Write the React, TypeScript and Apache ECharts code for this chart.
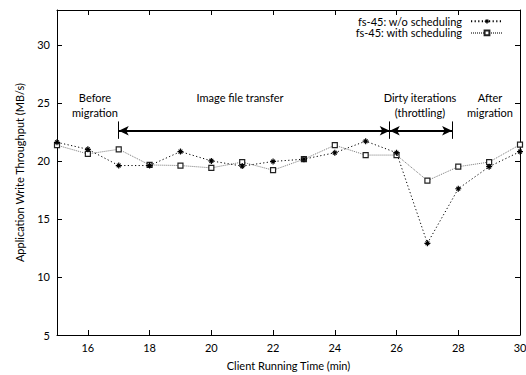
import React, { useEffect, useRef } from "react";
import * as echarts from "echarts";

const times = [15, 16, 17, 18, 19, 20, 21, 22, 23, 24, 25, 26, 27, 28, 29, 30];
const withoutScheduling = [21.6, 21.0, 19.6, 19.6, 20.8, 20.0, 19.55, 19.95, 20.15, 20.7, 21.7, 20.7, 12.9, 17.6, 19.5, 20.8];
const withScheduling = [21.35, 20.6, 21.0, 19.65, 19.6, 19.4, 19.9, 19.2, 20.15, 21.35, 20.5, 20.5, 18.3, 19.5, 19.9, 21.4];
const xTicks = [16, 18, 20, 22, 24, 26, 28, 30];
const yTicks = [5, 10, 15, 20, 25, 30];
const seriesNames = ["fs-45: w/o scheduling", "fs-45: with scheduling"];
const phaseBounds = [17, 25.78, 27.8];
const arrowLevel = 22.6;
const barRange = [21.9, 23.4];

const FONT = "Lato";
const STAR =
  "path://M4,0 L6,0 L6,10 L4,10 Z M0,4 L10,4 L10,6 L0,6 Z M2.42,1.22 L8.78,7.58 L7.58,8.78 L1.22,2.42 Z M7.58,1.22 L8.78,2.42 L2.42,8.78 L1.22,7.58 Z";

export default function App() {
  const ref = useRef<HTMLDivElement>(null);
  useEffect(() => {
    document.body.style.margin = "0";
    const chart = echarts.init(ref.current!, undefined, { renderer: "svg" });
    const d1 = times.map((t, i) => [t, withoutScheduling[i]]);
    const d2 = times.map((t, i) => [t, withScheduling[i]]);
    const arrowLines: any[] = [
      [
        { coord: [phaseBounds[0], arrowLevel], symbol: "arrow" },
        { coord: [phaseBounds[1], arrowLevel], symbol: "arrow" },
      ],
      [
        { coord: [phaseBounds[1], arrowLevel], symbol: "arrow" },
        { coord: [phaseBounds[2], arrowLevel], symbol: "arrow" },
      ],
    ];
    const barLines: any[] = phaseBounds.map((b) => [
      { coord: [b, barRange[0]], symbol: "none", lineStyle: { width: 1 } },
      { coord: [b, barRange[1]], symbol: "none" },
    ]);
    const textStyle = { fontFamily: FONT, fontSize: 11, color: "#000" };
    const mkText = (text: string, x: number, y: number) => ({
      type: "text",
      x,
      y,
      silent: true,
      style: {
        text,
        textAlign: "center",
        textVerticalAlign: "middle",
        font: `11px ${FONT}`,
        lineHeight: 15,
        fill: "#000",
      },
    });
    chart.setOption({
      animation: false,
      textStyle,
      grid: { left: 57, right: 6, top: 10, bottom: 40, show: false, outerBoundsMode: "none" },
      legend: {
        show: true,
        orient: "vertical",
        right: 22,
        top: 15.5,
        padding: 0,
        align: "right",
        itemWidth: 32,
        itemHeight: 6,
        itemGap: 0,
        textStyle: { ...textStyle, fontSize: 11, lineHeight: 11.6, padding: [0, 4, 0, 0] },
        data: seriesNames,
      },
      xAxis: [
        {
          type: "value",
          min: 15,
          max: 30,
          position: "bottom",
          name: "Client Running Time (min)",
          nameLocation: "middle",
          nameGap: 25,
          nameTextStyle: textStyle,
          splitLine: { show: false },
          axisLine: { show: true, lineStyle: { color: "#000", width: 1 } },
          axisTick: { show: true, inside: true, length: 5, customValues: xTicks, lineStyle: { color: "#000" } },
          axisLabel: { show: true, customValues: xTicks, margin: 7, ...textStyle },
        },
        {
          type: "value",
          min: 15,
          max: 30,
          position: "top",
          splitLine: { show: false },
          axisLine: { show: true, onZero: false, lineStyle: { color: "#000", width: 1 } },
          axisTick: { show: true, inside: true, length: 5, customValues: xTicks, lineStyle: { color: "#000" } },
          axisLabel: { show: false },
        },
      ],
      yAxis: [
        {
          type: "value",
          min: 5,
          max: 33,
          position: "left",
          name: "Application Write Throughput (MB/s)",
          nameLocation: "middle",
          nameGap: 32,
          nameTextStyle: textStyle,
          splitLine: { show: false },
          axisLine: { show: true, onZero: false, lineStyle: { color: "#000", width: 1 } },
          axisTick: { show: true, inside: true, length: 5, customValues: yTicks, lineStyle: { color: "#000" } },
          axisLabel: { show: true, customValues: yTicks, margin: 7, ...textStyle },
        },
        {
          type: "value",
          min: 5,
          max: 33,
          position: "right",
          splitLine: { show: false },
          axisLine: { show: true, onZero: false, lineStyle: { color: "#000", width: 1 } },
          axisTick: { show: true, inside: true, length: 5, customValues: yTicks, lineStyle: { color: "#000" } },
          axisLabel: { show: false },
        },
      ],
      series: [
        {
          name: seriesNames[0],
          type: "line",
          data: d1,
          symbol: STAR,
          symbolSize: 6,
          showAllSymbol: true,
          itemStyle: { color: "#000", borderWidth: 0 },
          lineStyle: { color: "#000", width: 1, type: [1.2, 2.4] },
          z: 3,
          markLine: {
            silent: true,
            animation: false,
            symbolSize: [7, 10],
            label: { show: false },
            emphasis: { disabled: true },
            lineStyle: { color: "#000", width: 2.2, type: "solid" },
            data: [...arrowLines, ...barLines],
          },
        },
        {
          name: seriesNames[1],
          type: "line",
          data: d2,
          symbol: "rect",
          symbolSize: 5,
          showAllSymbol: true,
          itemStyle: { color: "#fff", borderColor: "#222", borderWidth: 1.2 },
          lineStyle: { color: "#777", width: 1, type: [1, 1] },
          z: 2,
        },
      ],
      graphic: [
        mkText("Before\nmigration", 95, 104.5),
        mkText("Image file transfer", 240, 97),
        mkText("Dirty iterations\n(throttling)", 420, 104.5),
        mkText("After\nmigration", 490, 104.5),
      ],
    });
    return () => chart.dispose();
  }, []);
  return <div ref={ref} style={{ width: 526, height: 375 }} />;
}
